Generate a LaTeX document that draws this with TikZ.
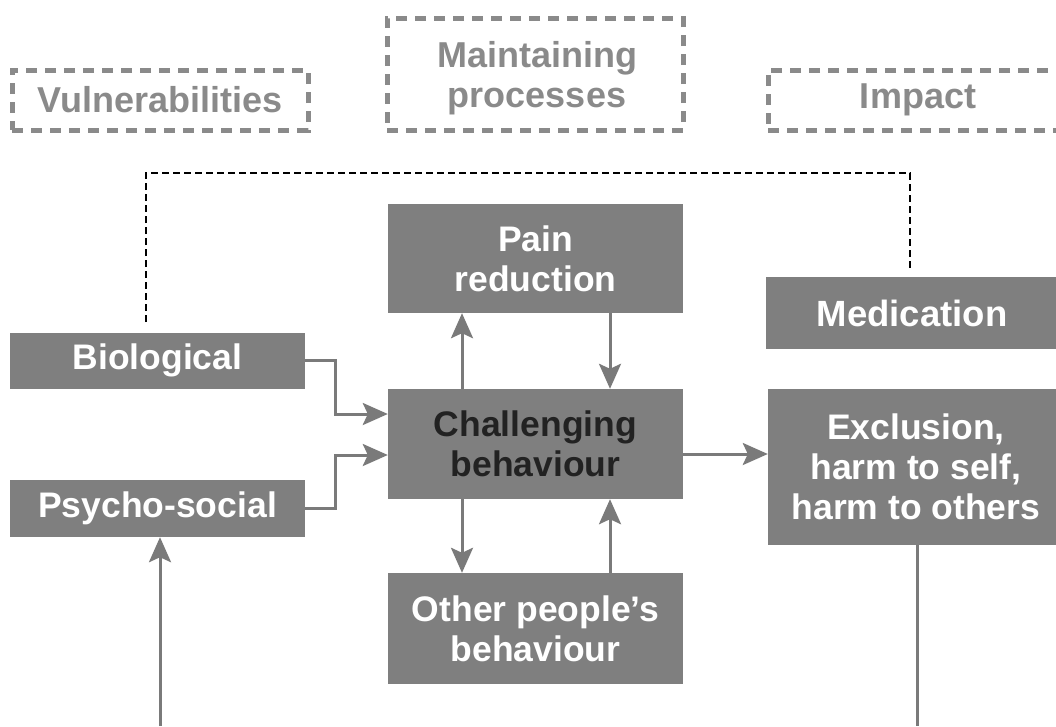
\documentclass[tikz,border=0pt]{standalone}
\usepackage{fontspec}
\setmainfont{Liberation Sans}
\usetikzlibrary{arrows.meta}
\definecolor{boxgray}{HTML}{7F7F7F}
\definecolor{headgray}{HTML}{8A8A8A}
\definecolor{arrgray}{HTML}{7A7A7A}
\definecolor{darktext}{HTML}{222222}
\begin{document}
\begin{tikzpicture}[x=1pt,y=-1pt,
  box/.style={fill=boxgray, draw=none, inner sep=0pt, align=center,
    text=white, font=\bfseries\fontsize{35.5}{40}\selectfont},
  header/.style={draw=headgray, line width=5pt, dash pattern=on 11pt off 8pt,
    inner sep=0pt, align=center, text=headgray,
    font=\bfseries\fontsize{36}{40}\selectfont},
  link/.style={draw=arrgray, line width=3pt},
  arr/.style={link, -{Stealth[length=25pt,width=22pt,inset=5pt]}},
  guide/.style={draw=black, line width=2pt, dash pattern=on 7pt off 4pt}]
\useasboundingbox (0,0) rectangle (1056,726);
\clip (0,0) rectangle (1056,726);

% column headers
\node[header, minimum width=296pt, minimum height=60pt] (vul) at (160,100) {Vulnerabilities};
\node[header, minimum width=296pt, minimum height=112pt] (maint) at (535,74) {};
\node[text=headgray, align=center, font=\bfseries\fontsize{36}{40}\selectfont] (maintlbl) at (537,78) {Maintaining\\processes};
\node[header, minimum width=300pt, minimum height=60pt] (imp) at (918,100) {Impact};

% boxes
\node[box, minimum width=295pt, minimum height=56pt] (bio) at (157.5,360.5) {Biological};
\node[box, minimum width=295pt, minimum height=57pt] (psy) at (157.5,508.5) {Psycho-social};
\node[box, minimum width=295pt, minimum height=109pt] (pain) at (535.5,258.5) {\raisebox{-3pt}{\parbox{290pt}{\centering Pain\\reduction}}};
\node[box, minimum width=295pt, minimum height=110pt, text=darktext] (chal) at (535.5,444) {Challenging\\behaviour};
\node[box, minimum width=295pt, minimum height=111pt] (other) at (535.5,628.5) {Other people’s\\behaviour};
\node[box, minimum width=292pt, minimum height=72pt, font=\bfseries\fontsize{36.5}{40}\selectfont] (med) at (912,313) {Medication};
\node[box, minimum width=296pt, minimum height=156pt] (excl) at (916,467) {Exclusion,\\harm to self,\\harm to others};

% helper coordinates
\coordinate (xl) at (462,0);
\coordinate (xr) at (610,0);
\coordinate (b1) at (160,726);
\coordinate (b2) at (917,726);
\coordinate (dl) at (146,322);
\coordinate (dr) at (910,270);
\coordinate (top) at (0,173);

% connectors
\draw[arr] (bio.east) -- ++(30,0) |- ([yshift=30pt]chal.west);
\draw[arr] (psy.east) -- ++(30,0) |- ([yshift=-11pt]chal.west);
\draw[arr] (chal.north -| xl) -- (pain.south -| xl);
\draw[arr] (pain.south -| xr) -- (chal.north -| xr);
\draw[arr] (chal.south -| xl) -- (other.north -| xl);
\draw[arr] (other.north -| xr) -- (chal.south -| xr);
\draw[arr] ([yshift=-10pt]chal.east) -- ([yshift=-10pt]chal.east -| excl.west);
\draw[arr] (b1) -- (b1 |- psy.south);
\draw[link] (b2 |- excl.south) -- (b2);

% dashed feedback line
\draw[guide] (dl) |- (dr |- top) -- (dr);
\end{tikzpicture}
\end{document}
